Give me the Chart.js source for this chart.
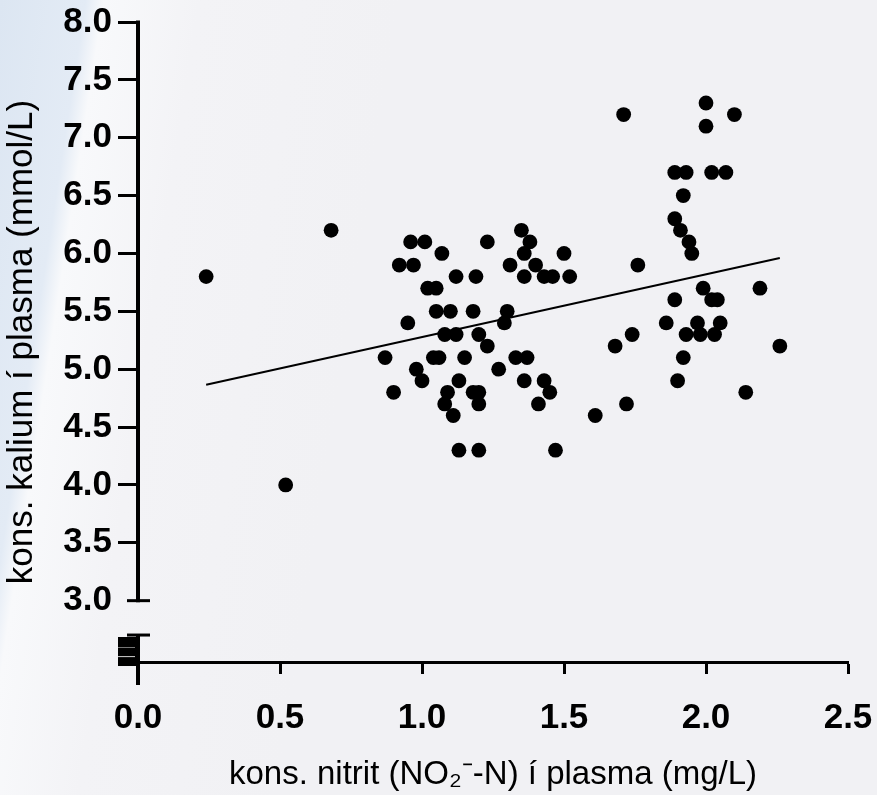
<!DOCTYPE html>
<html>
<head>
<meta charset="utf-8">
<script src="https://cdn.jsdelivr.net/npm/chart.js@4.4.1/dist/chart.umd.min.js"></script>
<style>
  html, body { margin: 0; padding: 0; width: 877px; height: 795px; overflow: hidden; }
  body {
    background: linear-gradient(98.7deg, #dce6f2 0%, #e3ebf5 8.6%, #f8f9fb 10.4%, #f3f3f6 20%, #f1f1f4 40%);
  }
  #wrap { position: absolute; left: 0; top: 0; width: 877px; height: 795px; }
</style>
</head>
<body>
<div id="wrap"><canvas id="c" width="877" height="795"></canvas></div>
<script>
// ---- data ----
const nitrite = [
  0.24, 0.52, 0.68,
  1.35, 0.96, 1.01, 1.23, 1.38, 1.07, 1.36, 1.50, 0.92, 0.97, 1.31, 1.40,
  1.12, 1.19, 1.36, 1.43, 1.46, 1.52, 1.02, 1.05, 1.05, 1.10, 1.18, 1.30,
  0.95, 1.29, 1.08, 1.12, 1.20, 1.23, 0.87, 1.04, 1.06, 1.15, 1.33, 1.37,
  0.98, 1.27, 1.00, 1.13, 1.36, 1.43, 0.90, 1.09, 1.18, 1.20, 1.45, 1.08,
  1.20, 1.41, 1.11, 1.61, 1.13, 1.20, 1.47,
  2.00, 1.71, 2.10, 2.00, 1.89, 1.93, 2.02, 2.07, 1.92, 1.89, 1.91, 1.94,
  1.95, 1.76, 1.99, 2.19, 1.89, 2.02, 2.04, 1.86, 1.97, 2.05, 1.74, 1.93,
  1.98, 2.03, 1.68, 2.26, 1.92, 1.90, 2.14, 1.72
];
const potassium = [
  5.8, 4.0, 6.2,
  6.2, 6.1, 6.1, 6.1, 6.1, 6.0, 6.0, 6.0, 5.9, 5.9, 5.9, 5.9,
  5.8, 5.8, 5.8, 5.8, 5.8, 5.8, 5.7, 5.7, 5.5, 5.5, 5.5, 5.5,
  5.4, 5.4, 5.3, 5.3, 5.3, 5.2, 5.1, 5.1, 5.1, 5.1, 5.1, 5.1,
  5.0, 5.0, 4.9, 4.9, 4.9, 4.9, 4.8, 4.8, 4.8, 4.8, 4.8, 4.7,
  4.7, 4.7, 4.6, 4.6, 4.3, 4.3, 4.3,
  7.3, 7.2, 7.2, 7.1, 6.7, 6.7, 6.7, 6.7, 6.5, 6.3, 6.2, 6.1,
  6.0, 5.9, 5.7, 5.7, 5.6, 5.6, 5.6, 5.4, 5.4, 5.4, 5.3, 5.3,
  5.3, 5.3, 5.2, 5.2, 5.1, 4.9, 4.8, 4.7
];
// regression line end points
const fitX = [0.24, 2.26];
const fitY = [4.865, 5.96];
// stacked markers on the lower (broken) axis segment
const breakX = [-0.037, -0.037, -0.037];
const breakY = [2.642, 2.560, 2.478];

const X_TICKS = [0.0, 0.5, 1.0, 1.5, 2.0, 2.5];
const Y_TICKS = [3.0, 3.5, 4.0, 4.5, 5.0, 5.5, 6.0, 6.5, 7.0, 7.5, 8.0];
const Y_MIN = 2.47;
const BREAK_TOP = 2.703;
const BREAK_BOTTOM = 2.271;
const X_TITLE = 'kons. nitrit (NO\u2082\u207B-N) \u00ED plasma (mg/L)';
const Y_TITLE = 'kons. kalium \u00ED plasma (mmol/L)';

// ---- chart ----
const FONT = 'Arial, "Liberation Sans", Helvetica, sans-serif';

function makeBlock(withLine) {
  const c = document.createElement('canvas');
  c.width = 19; c.height = 10;
  const g = c.getContext('2d');
  g.fillStyle = '#000';
  g.fillRect(0, 0, 19, 10);
  if (withLine) { g.fillStyle = '#bdbdbd'; g.fillRect(0, 0, 17, 1); }
  return c;
}
const blockA = makeBlock(false), blockB = makeBlock(true);

const brokenAxis = {
  id: 'brokenAxis',
  afterDraw(chart) {
    const { ctx, chartArea, scales: { y } } = chart;
    const x0 = chartArea.left;
    const line = (a, b, c, d) => { ctx.beginPath(); ctx.moveTo(a, b); ctx.lineTo(c, d); ctx.stroke(); };
    ctx.save();
    ctx.strokeStyle = '#000';
    ctx.lineCap = 'butt';
    const pTop = y.getPixelForValue(Y_TICKS[Y_TICKS.length - 1]);
    const pLow = y.getPixelForValue(Y_TICKS[0]);
    ctx.lineWidth = 4;
    line(x0, pTop - 1.5, x0, pLow + 1.5);
    ctx.lineWidth = 3;
    line(x0 - 11, pLow, x0 + 12, pLow);
    const bt = y.getPixelForValue(BREAK_TOP), bb = y.getPixelForValue(BREAK_BOTTOM);
    ctx.lineWidth = 4;
    line(x0, bt, x0, bb);
    ctx.lineWidth = 3;
    line(x0 - 11, bt, x0 + 12, bt);
    ctx.restore();
  }
};

new Chart(document.getElementById('c'), {
  type: 'scatter',
  data: {
    datasets: [
      {
        type: 'line',
        data: fitX.map((x, i) => ({ x, y: fitY[i] })),
        borderColor: '#000', borderWidth: 2, pointRadius: 0, fill: false, order: 2
      },
      {
        type: 'scatter',
        data: nitrite.map((x, i) => ({ x, y: potassium[i] })),
        backgroundColor: '#000', borderWidth: 0, pointRadius: 7.4, pointHoverRadius: 7.4, order: 1
      },
      {
        type: 'bubble',
        data: breakX.map((x, i) => ({ x, y: breakY[i] })),
        radius: 16, hoverRadius: 16, borderWidth: 0,
        pointStyle: [blockA, blockB, blockB], clip: false, order: 0
      }
    ]
  },
  options: {
    responsive: false, animation: false, devicePixelRatio: 1,
    layout: { padding: { top: 22, right: 29, bottom: 0, left: 0 } },
    plugins: { legend: { display: false }, tooltip: { enabled: false } },
    scales: {
      x: {
        type: 'linear', min: X_TICKS[0], max: X_TICKS[X_TICKS.length - 1],
        afterBuildTicks: s => { s.ticks = X_TICKS.map(v => ({ value: v })); },
        afterFit: s => { s.height = 133; s.paddingLeft = 0; s.paddingRight = 0; },
        border: { display: true, color: '#000', width: 3 },
        grid: { display: true, drawOnChartArea: false, drawTicks: true, tickLength: 12, tickWidth: 3, tickColor: '#000' },
        ticks: {
          font: { family: FONT, size: 35, weight: 'bold', lineHeight: 1 }, color: '#000',
          padding: 27, maxRotation: 0, autoSkip: false, callback: v => Number(v).toFixed(1)
        },
        title: { display: true, text: X_TITLE, color: '#000', font: { family: FONT, size: 33, lineHeight: 1.2 }, padding: { top: 0, bottom: 0 } }
      },
      y: {
        type: 'linear', min: Y_MIN, max: Y_TICKS[Y_TICKS.length - 1],
        afterBuildTicks: s => { s.ticks = Y_TICKS.map(v => ({ value: v })); },
        afterFit: s => { s.width = 138; s.paddingTop = 0; s.paddingBottom = 0; },
        border: { display: false },
        grid: {
          display: true, drawOnChartArea: false, drawTicks: true, tickLength: 20, tickWidth: 3,
          tickColor: c => (c.tick && Math.abs(c.tick.value - Y_TICKS[0]) < 1e-9) ? 'rgba(0,0,0,0)' : '#000'
        },
        ticks: {
          font: { family: FONT, size: 35, weight: 'bold', lineHeight: 1 }, color: '#000',
          padding: 6, autoSkip: false, callback: v => Number(v).toFixed(1)
        },
        title: { display: true, text: Y_TITLE, color: '#000', font: { family: FONT, size: 35, lineHeight: 1.2 }, padding: { top: 1, bottom: 0 } }
      }
    }
  },
  plugins: [brokenAxis]
});
</script>
</body>
</html>
